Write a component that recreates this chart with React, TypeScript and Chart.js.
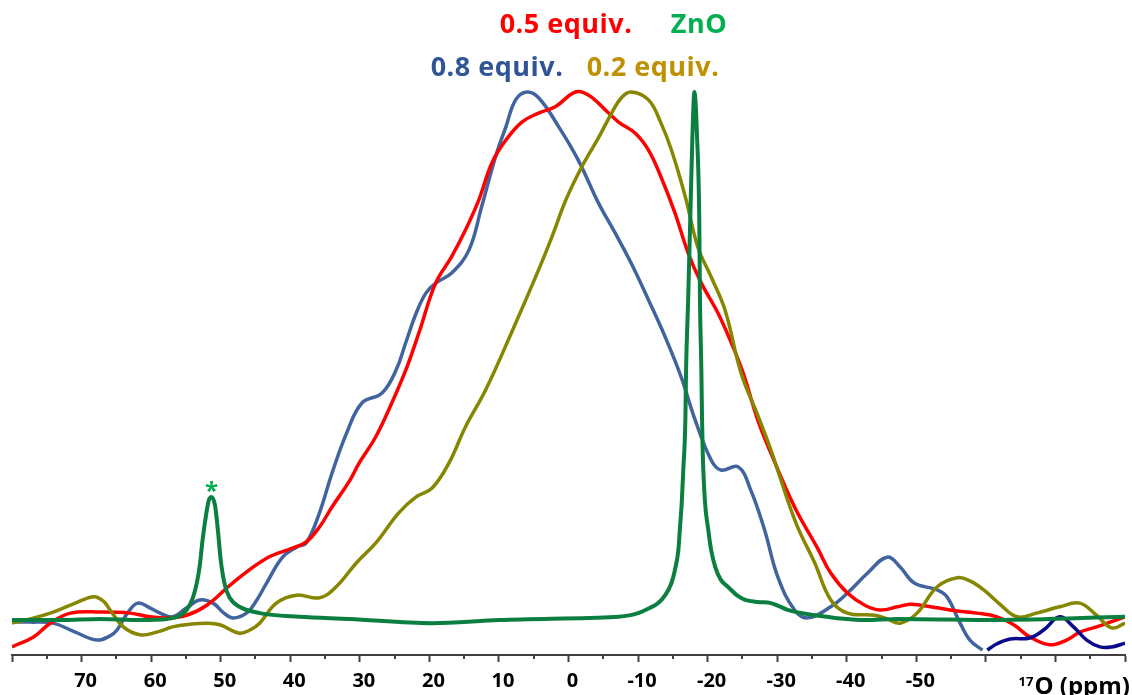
import React, { useEffect, useRef } from "react";
import { Chart, registerables } from "chart.js";

Chart.register(...registerables);

// 17O chemical shift (ppm) and normalised intensity for each spectrum
const redPpm = [80, 76.9, 74.5, 71.6, 67.3, 63.0, 60.2, 57.7, 54.9, 52.0, 48.3, 43.4, 39.7, 37.7, 35.8, 34.0, 31.5, 30.1, 27.7, 25.4, 23.4, 21.5, 19.1, 16.8, 14.8, 12.9, 11.0, 9.0, 6.7, 4.3, 1.9, -1.0, -2.9, -5.3, -7.2, -9.6, -11.5, -13.3, -15.3, -17.2, -19.1, -21.5, -23.4, -25.1, -27.2, -29.1, -32.5, -35.8, -37.7, -40.1, -42.6, -44.8, -47.3, -49.1, -51.1, -53.0, -55.9, -58.7, -61.6, -64.0, -66.3, -69.2, -71.6, -73.5, -75.9, -80];
const redInt = [-5.1, -3.2, -0.6, 1.3, 1.5, 1.3, 0.6, 0.4, 0.9, 2.8, 7.0, 11.7, 13.6, 14.8, 17.6, 21.4, 26.3, 29.7, 34.7, 41.1, 47.3, 54.4, 63.8, 68.8, 73.9, 79.5, 86.6, 90.9, 94.3, 96.0, 97.2, 100, 99.4, 96.6, 94.3, 92.2, 89.0, 83.9, 77.1, 69.5, 63.8, 58.1, 52.5, 46.8, 37.9, 31.6, 21.4, 13.6, 8.9, 5.1, 2.8, 1.9, 2.5, 3.0, 2.7, 2.3, 1.7, 1.3, 0.6, -0.9, -3.2, -4.7, -3.8, -2.3, -1.3, 0.6];

const bluePpm = [80, 77.4, 74.1, 70.9, 67.8, 65.9, 64.9, 63.3, 61.9, 60.2, 58.7, 56.9, 54.9, 53.0, 51.1, 49.7, 48.3, 46.3, 44.8, 43.4, 41.1, 39.1, 37.7, 35.8, 34.0, 31.9, 29.7, 26.8, 24.8, 23.4, 21.9, 20.5, 19.1, 16.8, 14.3, 12.5, 10.5, 9.0, 7.6, 6.0, 4.3, 1.4, -1.4, -4.3, -6.7, -9.0, -11.5, -13.9, -16.2, -18.2, -20.5, -21.9, -24.4, -26.2, -28.2, -30.1, -32.5, -34.4, -37.7, -40.1, -43.0, -45.8, -47.7, -49.7, -53.0, -54.4, -56.3, -57.7, -59.5];
const blueInt = [-0.4, -0.4, -0.6, -2.3, -3.8, -3.0, -1.9, 1.5, 3.2, 2.3, 1.3, 0.6, 2.3, 3.8, 3.2, 1.5, 0.4, 1.3, 3.8, 7.0, 11.9, 13.8, 14.6, 20.3, 27.8, 35.4, 41.1, 43.0, 47.3, 52.5, 58.1, 61.9, 63.8, 65.7, 70.1, 78.2, 87.7, 93.4, 98.5, 100, 98.9, 93.4, 87.1, 79.0, 73.3, 67.6, 60.6, 53.6, 46.0, 37.9, 30.3, 28.4, 29.0, 24.6, 17.0, 8.1, 1.9, 0.4, 2.5, 5.1, 8.9, 11.9, 10.0, 7.0, 5.7, 4.4, -0.6, -3.8, -5.7];

const navyPpm = [-60.2, -61.6, -63.5, -66.3, -68.3, -70.6, -72.6, -74.5, -76.4, -78.1, -80];
const navyInt = [-5.7, -4.5, -3.6, -3.4, -1.9, 0.6, -1.3, -3.8, -5.1, -5.1, -4.4];

const olivePpm = [80, 77.4, 74.5, 71.6, 68.3, 66.9, 65.9, 64.0, 61.6, 59.2, 56.9, 54.4, 52.0, 50.1, 47.3, 45.8, 44.4, 42.0, 39.1, 35.8, 33.4, 30.5, 27.7, 24.4, 21.9, 19.6, 17.2, 14.8, 11.9, 8.2, 4.3, 2.4, 0.4, -1.9, -4.3, -6.2, -7.6, -9.0, -11.5, -13.3, -14.8, -16.8, -18.6, -20.5, -22.5, -24.8, -27.2, -29.1, -31.5, -33.0, -35.4, -37.7, -40.1, -44.0, -45.8, -47.7, -50.1, -53.0, -55.9, -57.7, -59.7, -62.0, -64.5, -67.3, -70.6, -73.5, -75.9, -78.1, -80];
const oliveInt = [-0.6, 0.2, 1.3, 2.8, 4.4, 3.6, 1.9, -1.3, -2.8, -2.3, -1.3, -0.8, -0.6, -0.9, -2.5, -1.9, -0.6, 3.2, 4.7, 4.2, 6.3, 10.8, 14.6, 20.3, 23.3, 25.0, 29.7, 36.6, 43.6, 54.4, 66.3, 72.5, 79.5, 85.8, 91.3, 96.0, 98.9, 100, 98.5, 94.1, 89.0, 80.1, 70.6, 65.0, 58.7, 46.8, 38.8, 32.2, 22.7, 17.4, 10.8, 3.8, 1.3, 0.9, 0.2, -0.6, 1.3, 6.3, 8.0, 7.4, 5.7, 3.0, 0.6, 1.3, 2.5, 3.2, 0.9, -1.5, -0.6];

const znoPpm = [80, 73.1, 67.3, 61.6, 57.7, 55.9, 54.9, 54.0, 53.4, 53.0, 52.6, 52.1, 51.7, 51.3, 50.8, 50.4, 50.0, 49.4, 48.7, 47.3, 44.4, 38.7, 31.5, 19.6, 10.0, -2.9, -7.2, -10.0, -11.7, -12.9, -13.9, -14.8, -15.3, -15.8, -16.0, -16.3, -16.5, -16.8, -16.9, -17.2, -17.5, -17.8, -18.1, -18.5, -18.8, -18.9, -19.1, -19.2, -19.3, -19.6, -20.1, -20.5, -21.1, -21.9, -22.9, -24.4, -25.4, -27.2, -29.1, -30.5, -31.5, -35.4, -42.6, -47.3, -61.6, -80];
const znoInt = [0, 0, 0.2, 0, 0.2, 0.8, 1.9, 4.2, 7.2, 10.4, 15.2, 19.9, 22.7, 23.3, 21.6, 17.0, 11.4, 6.6, 4.2, 2.5, 1.3, 0.6, 0.2, -0.6, 0, 0.4, 0.6, 1.3, 2.3, 3.2, 4.7, 7.0, 9.5, 13.3, 17.0, 22.7, 28.4, 37.9, 47.3, 60.6, 75.8, 90.9, 100, 90.9, 75.8, 60.6, 47.3, 37.9, 31.6, 22.7, 17.0, 13.3, 10.0, 7.6, 6.3, 4.5, 3.8, 3.4, 3.2, 2.5, 1.9, 0.9, 0, 0.2, 0, 0.6];

// Axis ticks
const majorTicks = [80, 70, 60, 50, 40, 30, 20, 10, 0, -10, -20, -30, -40, -50, -60, -70, -80];
const labelledTicks = [70, 60, 50, 40, 30, 20, 10, 0, -10, -20, -30, -40, -50];
const minorTicks = [75, 65, 55, 45, 35, 25, 15, 5, -5, -15, -25, -35, -45, -55, -65, -75];

// Series names written over the peaks
const seriesNames = ["0.5 equiv.", "ZnO", "0.8 equiv.", "0.2 equiv."];
const nameColors = ["#FF0000", "#00B050", "#2F5597", "#BF9000"];
const namePos = [
  [566, 33],
  [699, 33],
  [497, 76],
  [653, 76],
];

const AXIS_COLOR = "#404040";
const FONT = "'Open Sans', 'Noto Sans', sans-serif";

const toPoints = (xs: number[], ys: number[]) => xs.map((x, i) => ({ x, y: ys[i] }));

export default function App() {
  const canvasRef = useRef<HTMLCanvasElement | null>(null);

  useEffect(() => {
    const canvas = canvasRef.current;
    if (!canvas) return;

    const decorations = {
      id: "decorations",
      afterDraw(chart: any) {
        const { ctx, chartArea, scales } = chart;
        const xs = scales.x;
        const ys = scales.y;
        ctx.save();

        // short minor tick marks
        ctx.strokeStyle = AXIS_COLOR;
        ctx.lineWidth = 2;
        for (const v of minorTicks) {
          const px = Math.round(xs.getPixelForValue(v));
          ctx.beginPath();
          ctx.moveTo(px, chartArea.bottom);
          ctx.lineTo(px, chartArea.bottom + 4);
          ctx.stroke();
        }

        // series names
        ctx.font = `bold 27px ${FONT}`;
        ctx.textAlign = "center";
        ctx.textBaseline = "alphabetic";
        (ctx as any).letterSpacing = "0.5px";
        seriesNames.forEach((name, i) => {
          ctx.fillStyle = nameColors[i];
          ctx.fillText(name, namePos[i][0], namePos[i][1]);
        });
        (ctx as any).letterSpacing = "0px";

        // asterisk above the small ZnO side peak
        let k = 0;
        for (let i = 0; i < znoPpm.length; i++) {
          if (znoPpm[i] > 30 && znoInt[i] > znoInt[k]) k = i;
        }
        ctx.fillStyle = "#00B050";
        ctx.font = `bold 24px ${FONT}`;
        ctx.fillText("*", xs.getPixelForValue(znoPpm[k]), ys.getPixelForValue(znoInt[k]) + 2);

        // axis title: 17O (ppm)
        ctx.fillStyle = "#000000";
        ctx.textAlign = "right";
        ctx.font = `bold 24px ${FONT}`;
        const main = "O (ppm)";
        const right = 1130;
        ctx.fillText(main, right, 694);
        const w = ctx.measureText(main).width;
        ctx.font = `bold 13px ${FONT}`;
        ctx.fillText("17", right - w - 1, 686);

        ctx.restore();
      },
    };

    const smooth = { cubicInterpolationMode: "default", tension: 0.4 };

    const chart = new Chart(canvas, {
      type: "line",
      data: {
        datasets: [
          { label: "ZnO", data: toPoints(znoPpm, znoInt), borderColor: "#0B7F40", borderWidth: 4, order: 0, cubicInterpolationMode: "monotone" },
          { label: "0.2 equiv.", data: toPoints(olivePpm, oliveInt), borderColor: "#868600", order: 1, ...smooth },
          { label: "0.5 equiv.", data: toPoints(redPpm, redInt), borderColor: "#FF0000", order: 2, ...smooth },
          { label: "0.8 equiv.", data: toPoints(bluePpm, blueInt), borderColor: "#41649F", order: 3, ...smooth },
          { label: "0.8 equiv. (cont.)", data: toPoints(navyPpm, navyInt), borderColor: "#0A0A8C", order: 1, ...smooth },
        ],
      },
      options: {
        animation: false,
        responsive: false,
        maintainAspectRatio: false,
        devicePixelRatio: 1,
        layout: { padding: { left: 12, right: 3, top: 0, bottom: 0 } },
        plugins: { legend: { display: false }, tooltip: { enabled: false } },
        elements: {
          point: { radius: 0 },
          line: { borderWidth: 3.5, fill: false },
        },
        scales: {
          x: {
            type: "linear",
            reverse: true,
            min: -80,
            max: 80,
            border: { display: true, color: AXIS_COLOR, width: 2 },
            grid: { drawOnChartArea: false, drawTicks: true, tickLength: 7, tickColor: AXIS_COLOR, tickWidth: 2 },
            afterBuildTicks: (scale: any) => {
              scale.ticks = majorTicks.map((v) => ({ value: v }));
            },
            afterFit: (scale: any) => {
              scale.height = 40;
            },
            ticks: {
              autoSkip: false,
              maxRotation: 0,
              padding: 7,
              labelOffset: 4,
              color: "#000000",
              font: { family: FONT, weight: "bold", size: 20 },
              callback: (v: any) => (labelledTicks.includes(Number(v)) ? String(v) : ""),
            },
          },
          y: { display: false, min: -6.63, max: 117.42 },
        },
      },
      plugins: [decorations],
    } as any);

    return () => chart.destroy();
  }, []);

  return (
    <div style={{ position: "fixed", left: 0, top: 0, width: 1132, height: 695, background: "#ffffff" }}>
      <canvas ref={canvasRef} width={1132} height={695} style={{ display: "block" }} />
    </div>
  );
}
